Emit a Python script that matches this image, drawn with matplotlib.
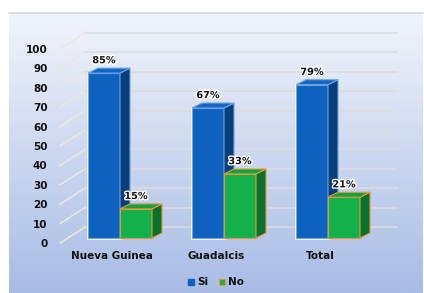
import matplotlib
matplotlib.use("Agg")
import matplotlib.pyplot as plt
import numpy as np
from matplotlib.patches import Polygon
import matplotlib.patheffects as pe

categories = ["Nueva Guinea", "Guadalcis", "Total"]
si = [85, 67, 79]
no = [15, 33, 21]
si_labels = ["85%", "67%", "79%"]
no_labels = ["15%", "33%", "21%"]
yticks = list(range(0, 101, 10))

W, H = 424, 293
fig = plt.figure(figsize=(W / 100, H / 100), dpi=100)

# background gradient of the chart area
bg = fig.add_axes([0, 0, 1, 1])
bg.set_xlim(0, W)
bg.set_ylim(H, 0)
bg.axis("off")
top_c = np.array([241, 244, 251]) / 255
bot_c = np.array([168, 188, 229]) / 255
t = np.linspace(0, 1, 200)[:, None]
grad = (top_c * (1 - t) + bot_c * t)[:, None, :]
bg.imshow(grad, extent=[9, 423, H, 13], aspect="auto")
bg.plot([9, 423], [13, 13], color="#d6d8dc", lw=1.2)

# main axes: front plane, y=0 at px 243, y=100 at px 49, x from px 60 to 372
ax = fig.add_axes([60 / W, (H - 243) / H, 312 / W, 194 / H])
ax.set_xlim(-0.5, 2.5)
ax.set_ylim(0, 100)
ax.patch.set_visible(False)
for s in ax.spines.values():
    s.set_visible(False)

pxx = 312 / 3.0   # pixels per category unit
pxy = 194 / 100.0  # pixels per value unit

# depth offsets
wall_dx, wall_dy = 25 / pxx, 16 / pxy
bar_ox, bar_oy = 8 / pxx, 5 / pxy
dx, dy = 10 / pxx, 5 / pxy
bw = 32 / pxx

# gridlines: left floor diagonal + back wall
for v in yticks:
    ax.plot([-0.5, -0.5 + wall_dx], [v, v + wall_dy], color="#ece8dc", lw=1.1,
            clip_on=False, zorder=1)
    ax.plot([-0.5 + wall_dx, 2.5 + wall_dx], [v + wall_dy, v + wall_dy],
            color="#dcdcdc", lw=1.1, clip_on=False, zorder=1)


def draw_bars(vals, labels, offset, front, topc, side, edge, glow):
    x = np.arange(len(vals)) + offset + bar_ox
    ax.bar(x, vals, width=bw, bottom=bar_oy, color=front, edgecolor=edge,
           linewidth=0.8, zorder=3, clip_on=False,
           path_effects=[pe.withStroke(linewidth=2, foreground=glow)] if glow else None)
    for xi, v, lab in zip(x, vals, labels):
        x0, x1 = xi - bw / 2, xi + bw / 2
        y0, y1 = bar_oy, bar_oy + v
        ax.add_patch(Polygon([(x1, y0), (x1 + dx, y0 + dy), (x1 + dx, y1 + dy), (x1, y1)],
                             closed=True, facecolor=side, edgecolor=edge, lw=0.8,
                             zorder=3, clip_on=False))
        ax.add_patch(Polygon([(x0, y1), (x0 + dx, y1 + dy), (x1 + dx, y1 + dy), (x1, y1)],
                             closed=True, facecolor=topc, edgecolor=edge, lw=0.8,
                             zorder=3, clip_on=False))
        ax.text(xi, y1 + dy + 1.5, lab, ha="center", va="bottom", fontsize=7,
                fontweight="bold", color="#111111", zorder=6,
                path_effects=[pe.withStroke(linewidth=2, foreground="white")])


draw_bars(si, si_labels, -bw / 2, "#0d62bf", "#1466c4", "#073e7c", "#6fa4e0", "white")
draw_bars(no, no_labels, bw / 2, "#14b04a", "#11a542", "#07722d", "#e8963a", None)

ax.set_yticks(yticks)
ax.set_yticklabels([str(v) for v in yticks], fontsize=7.5, fontweight="bold", color="#111111")
ax.set_xticks(range(len(categories)))
ax.set_xticklabels(categories, fontsize=7.5, fontweight="bold", color="#111111")
ax.tick_params(axis="y", length=0, pad=9)
ax.tick_params(axis="x", length=0, pad=6)

# legend
bg.add_patch(plt.Rectangle((188, 279), 6, 6, color="#0d62bf"))
bg.text(197, 282, "Si", fontsize=7.5, fontweight="bold", va="center", color="#111111")
bg.add_patch(plt.Rectangle((219, 279), 6, 6, facecolor="#14b04a", edgecolor="#e8963a", lw=0.8))
bg.text(228, 282, "No", fontsize=7.5, fontweight="bold", va="center", color="#111111")

fig.savefig("out.png", dpi=100)
